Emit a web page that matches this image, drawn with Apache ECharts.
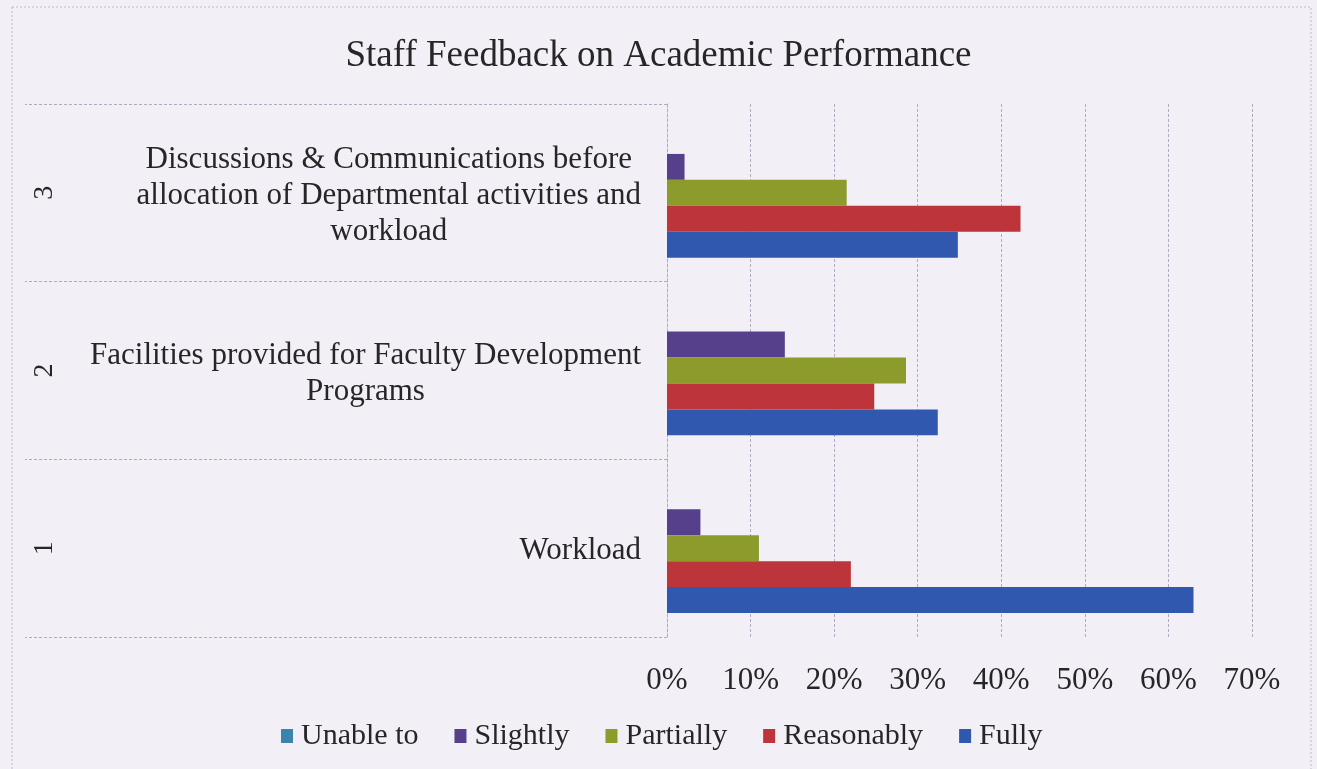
<!DOCTYPE html>
<html>
<head>
<meta charset="utf-8">
<script src="https://cdn.jsdelivr.net/npm/echarts@6/dist/echarts.min.js"></script>
<style>
  html, body { margin: 0; padding: 0; background: #f3eff7; }
  #chart { width: 1317px; height: 769px; }
</style>
</head>
<body>
<div id="chart"></div>
<script>
// ---- data ----
const categories = [
  'Workload',
  'Facilities provided for Faculty Development\nPrograms',
  'Discussions & Communications before\nallocation of Departmental activities and\nworkload'
];
const groupNumbers = ['1', '2', '3'];
const seriesNames = ['Unable to', 'Slightly', 'Partially', 'Reasonably', 'Fully'];
const unableTo   = [0, 0, 0];
const slightly   = [4.0, 14.1, 2.1];
const partially  = [11.0, 28.6, 21.5];
const reasonably = [22.0, 24.8, 42.3];
const fully      = [63.0, 32.4, 34.8];
const xMin = 0, xMax = 70, xStep = 10;

const colors = ['#3a84ad', '#56408c', '#8d9b2c', '#bd343a', '#2f58ae'];
const seriesData = [unableTo, slightly, partially, reasonably, fully];

const FONT = '"Liberation Serif", "Times New Roman", serif';
const TXT = '#262626';
const GRID = '#b4a8c2';

const chart = echarts.init(document.getElementById('chart'), null, { renderer: 'canvas' });
chart.setOption({
  backgroundColor: '#f3eff7',
  animation: false,
  color: colors,
  title: {
    text: 'Staff Feedback on Academic Performance',
    left: 'center',
    top: 33,
    textStyle: { fontFamily: FONT, fontSize: 37, fontWeight: 'normal', color: TXT }
  },
  graphic: [{
    type: 'rect',
    shape: { x: 12, y: 7, width: 1299, height: 800 },
    style: { fill: 'none', stroke: '#c4b8cf', lineWidth: 1, lineDash: [2, 2] },
    silent: true
  }],
  legend: {
    data: seriesNames,
    left: 276,
    top: 716,
    icon: 'rect',
    itemWidth: 12,
    itemHeight: 14,
    itemGap: 36,
    textStyle: { fontFamily: FONT, fontSize: 30, color: TXT, padding: [4, 0, 0, 3] }
  },
  grid: { left: 667, right: 65, top: 104, bottom: 132, containLabel: false },
  xAxis: {
    type: 'value',
    min: xMin, max: xMax, interval: xStep,
    axisLine: { show: false },
    axisTick: { show: false },
    axisLabel: {
      formatter: '{value}%', margin: 28,
      fontFamily: FONT, fontSize: 31, color: TXT
    },
    splitLine: { show: true, lineStyle: { color: GRID, type: [3, 2], width: 1 } }
  },
  yAxis: [{
    type: 'category',
    data: categories,
    position: 'left',
    axisLine: { show: true, lineStyle: { color: GRID, type: [3, 2] } },
    axisTick: { show: true, length: 642, lineStyle: { color: GRID, type: [3, 2] } },
    axisLabel: {
      margin: 26,
      formatter: v => v.split('\n').map(l => '{c|' + l + '}').join('\n'),
      rich: { c: { fontFamily: FONT, fontSize: 31, color: TXT, align: 'center', lineHeight: 36, padding: [6, 0, 0, 0] } }
    },
    splitLine: { show: false }
  }, {
    type: 'category',
    data: groupNumbers,
    position: 'left',
    offset: 598,
    axisLine: { show: false },
    axisTick: { show: false },
    axisLabel: { rotate: 90, margin: 10, fontFamily: FONT, fontSize: 28, color: TXT },
    splitLine: { show: false }
  }],
  series: seriesNames.map((name, i) => ({
    name: name,
    type: 'bar',
    yAxisIndex: 0,
    data: seriesData[i],
    barGap: '0%',
    barCategoryGap: '27%',
    itemStyle: { color: colors[i] }
  }))
});
</script>
</body>
</html>
